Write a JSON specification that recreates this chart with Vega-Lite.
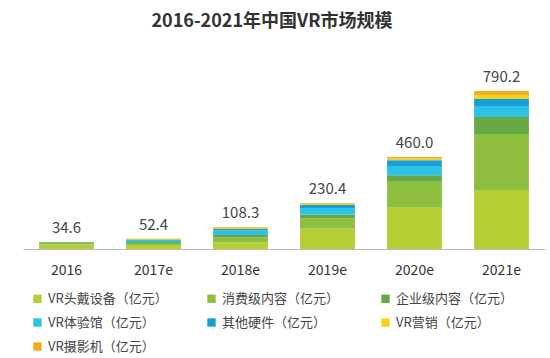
{
  "$schema": "https://vega.github.io/schema/vega-lite/v6.json",
  "autosize": {"type": "none"},
  "width": 522,
  "height": 200,
  "padding": {"left": 23, "top": 49, "right": 5, "bottom": 109},
  "background": "#ffffff",
  "title": {
    "text": "2016-2021年中国VR市场规模",
    "font": "Noto Sans CJK SC",
    "fontSize": 18,
    "fontWeight": "bold",
    "color": "#333333",
    "anchor": "middle",
    "dx": -12,
    "offset": 18
  },
  "config": {
    "view": {"stroke": null},
    "font": "Noto Sans CJK SC"
  },
  "datasets": {
    "segs": [
      {"year": "2016", "cat": "VR头戴设备（亿元）", "ord": 1, "value": 22},
      {"year": "2016", "cat": "消费级内容（亿元）", "ord": 2, "value": 8},
      {"year": "2016", "cat": "企业级内容（亿元）", "ord": 3, "value": 3.6},
      {"year": "2016", "cat": "VR体验馆（亿元）", "ord": 4, "value": 1},
      {"year": "2016", "cat": "其他硬件（亿元）", "ord": 5, "value": 0},
      {"year": "2016", "cat": "VR营销（亿元）", "ord": 6, "value": 0},
      {"year": "2016", "cat": "VR摄影机（亿元）", "ord": 7, "value": 0},
      {"year": "2017e", "cat": "VR头戴设备（亿元）", "ord": 1, "value": 20},
      {"year": "2017e", "cat": "消费级内容（亿元）", "ord": 2, "value": 10},
      {"year": "2017e", "cat": "企业级内容（亿元）", "ord": 3, "value": 5},
      {"year": "2017e", "cat": "VR体验馆（亿元）", "ord": 4, "value": 10},
      {"year": "2017e", "cat": "其他硬件（亿元）", "ord": 5, "value": 3},
      {"year": "2017e", "cat": "VR营销（亿元）", "ord": 6, "value": 3},
      {"year": "2017e", "cat": "VR摄影机（亿元）", "ord": 7, "value": 1.4},
      {"year": "2018e", "cat": "VR头戴设备（亿元）", "ord": 1, "value": 33},
      {"year": "2018e", "cat": "消费级内容（亿元）", "ord": 2, "value": 25},
      {"year": "2018e", "cat": "企业级内容（亿元）", "ord": 3, "value": 12},
      {"year": "2018e", "cat": "VR体验馆（亿元）", "ord": 4, "value": 22},
      {"year": "2018e", "cat": "其他硬件（亿元）", "ord": 5, "value": 8},
      {"year": "2018e", "cat": "VR营销（亿元）", "ord": 6, "value": 5},
      {"year": "2018e", "cat": "VR摄影机（亿元）", "ord": 7, "value": 3.3},
      {"year": "2019e", "cat": "VR头戴设备（亿元）", "ord": 1, "value": 102},
      {"year": "2019e", "cat": "消费级内容（亿元）", "ord": 2, "value": 52},
      {"year": "2019e", "cat": "企业级内容（亿元）", "ord": 3, "value": 18},
      {"year": "2019e", "cat": "VR体验馆（亿元）", "ord": 4, "value": 33},
      {"year": "2019e", "cat": "其他硬件（亿元）", "ord": 5, "value": 15},
      {"year": "2019e", "cat": "VR营销（亿元）", "ord": 6, "value": 6},
      {"year": "2019e", "cat": "VR摄影机（亿元）", "ord": 7, "value": 4.4},
      {"year": "2020e", "cat": "VR头戴设备（亿元）", "ord": 1, "value": 206},
      {"year": "2020e", "cat": "消费级内容（亿元）", "ord": 2, "value": 130},
      {"year": "2020e", "cat": "企业级内容（亿元）", "ord": 3, "value": 33},
      {"year": "2020e", "cat": "VR体验馆（亿元）", "ord": 4, "value": 42},
      {"year": "2020e", "cat": "其他硬件（亿元）", "ord": 5, "value": 33},
      {"year": "2020e", "cat": "VR营销（亿元）", "ord": 6, "value": 9},
      {"year": "2020e", "cat": "VR摄影机（亿元）", "ord": 7, "value": 7},
      {"year": "2021e", "cat": "VR头戴设备（亿元）", "ord": 1, "value": 295},
      {"year": "2021e", "cat": "消费级内容（亿元）", "ord": 2, "value": 280},
      {"year": "2021e", "cat": "企业级内容（亿元）", "ord": 3, "value": 85},
      {"year": "2021e", "cat": "VR体验馆（亿元）", "ord": 4, "value": 55},
      {"year": "2021e", "cat": "其他硬件（亿元）", "ord": 5, "value": 35},
      {"year": "2021e", "cat": "VR营销（亿元）", "ord": 6, "value": 20},
      {"year": "2021e", "cat": "VR摄影机（亿元）", "ord": 7, "value": 20.2}
    ],
    "totals": [
      {"year": "2016", "total": 34.6},
      {"year": "2017e", "total": 52.4},
      {"year": "2018e", "total": 108.3},
      {"year": "2019e", "total": 230.4},
      {"year": "2020e", "total": 460.0},
      {"year": "2021e", "total": 790.2}
    ]
  },
  "encoding": {
    "x": {
      "field": "year",
      "type": "nominal",
      "sort": null,
      "scale": {"paddingInner": 0.37, "paddingOuter": 0.185},
      "axis": {
        "title": null,
        "labelAngle": 0,
        "ticks": false,
        "domainColor": "#bbbbbb",
        "labelFontSize": 14,
        "labelColor": "#333333",
        "labelPadding": 14,
        "labelFont": "Noto Sans CJK SC"
      }
    }
  },
  "layer": [
    {
      "data": {"name": "segs"},
      "mark": {"type": "bar"},
      "encoding": {
        "y": {
          "field": "value",
          "type": "quantitative",
          "stack": "zero",
          "scale": {"domain": [0, 1000]},
          "axis": null
        },
        "order": {"field": "ord", "type": "quantitative"},
        "color": {
          "field": "cat",
          "type": "nominal",
          "scale": {
            "domain": ["VR头戴设备（亿元）", "消费级内容（亿元）", "企业级内容（亿元）", "VR体验馆（亿元）", "其他硬件（亿元）", "VR营销（亿元）", "VR摄影机（亿元）"],
            "range": ["#b6cd34", "#8cbf3f", "#67a845", "#2cc3e8", "#159fd6", "#f7d31f", "#f3ac1c"]
          },
          "legend": {
            "title": null,
            "orient": "none",
            "direction": "horizontal",
            "legendX": 8,
            "legendY": 243,
            "columns": 3,
            "gridAlign": "all",
            "columnPadding": 37,
            "rowPadding": 10,
            "symbolType": "square",
            "symbolSize": 70,
            "symbolStrokeWidth": 0,
            "labelFontSize": 13,
            "labelColor": "#444444",
            "labelFont": "Noto Sans CJK SC",
            "labelOffset": 4,
            "labelLimit": 200
          }
        }
      }
    },
    {
      "data": {"name": "totals"},
      "mark": {"type": "text", "baseline": "bottom", "dy": -6, "fontSize": 15, "color": "#444444", "font": "Noto Sans CJK SC"},
      "encoding": {
        "y": {"field": "total", "type": "quantitative"},
        "text": {"field": "total", "type": "quantitative", "format": ".1f"}
      }
    }
  ]
}
